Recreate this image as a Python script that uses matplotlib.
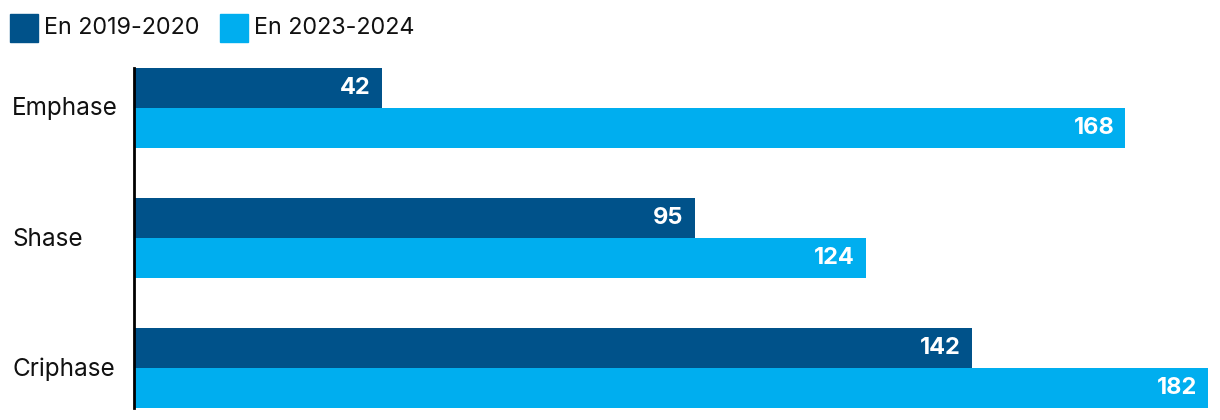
import matplotlib
matplotlib.use("Agg")
import matplotlib.pyplot as plt
from matplotlib.patches import Rectangle
import numpy as np

categories = ["Emphase", "Shase", "Criphase"]
series_names = ["En 2019-2020", "En 2023-2024"]
values_2019 = [42, 95, 142]
values_2023 = [168, 124, 182]
colors = ["#00528A", "#00AEEF"]

plt.rcParams['font.family'] = ['Inter', 'DejaVu Sans']

W, H = 1220, 420
fig = plt.figure(figsize=(W / 100, H / 100), dpi=100)
ax = fig.add_axes([134 / W, 1 - 408 / H, (1208 - 134) / W, (408 - 68) / H])

bh = 40 / 130
y = np.arange(len(categories))
b1 = ax.barh(y - bh / 2, values_2019, height=bh, color=colors[0])
b2 = ax.barh(y + bh / 2, values_2023, height=bh, color=colors[1])

ax.set_xlim(0, 182)
ax.set_ylim(len(categories) - 1 + bh, -bh)

px = 182 / (1208 - 134)
for bars, vals in ((b1, values_2019), (b2, values_2023)):
    for rect, v in zip(bars, vals):
        ax.text(v - 11 * px, rect.get_y() + rect.get_height() / 2, str(v),
                ha="right", va="center", color="white", fontsize=17,
                fontweight="bold")

for spine in ("top", "right", "bottom"):
    ax.spines[spine].set_visible(False)
ax.spines["left"].set_linewidth(2)
ax.spines["left"].set_color("black")
ax.set_xticks([])
ax.set_yticks([])

for i, c in enumerate(categories):
    yc = 109 + 130 * i
    fig.text(12 / W, 1 - yc / H, c, ha="left", va="center", fontsize=17.5,
             color="#111111")

# legend
leg = [(10, series_names[0], colors[0]), (220, series_names[1], colors[1])]
for x0, name, col in leg:
    fig.patches.append(Rectangle((x0 / W, 1 - 42 / H), 28 / W, 28 / H,
                                 transform=fig.transFigure, color=col))
    fig.text((x0 + 34) / W, 1 - 27.5 / H, name, ha="left", va="center",
             fontsize=16.8, color="#111111")

fig.savefig("out.png", dpi=100)
